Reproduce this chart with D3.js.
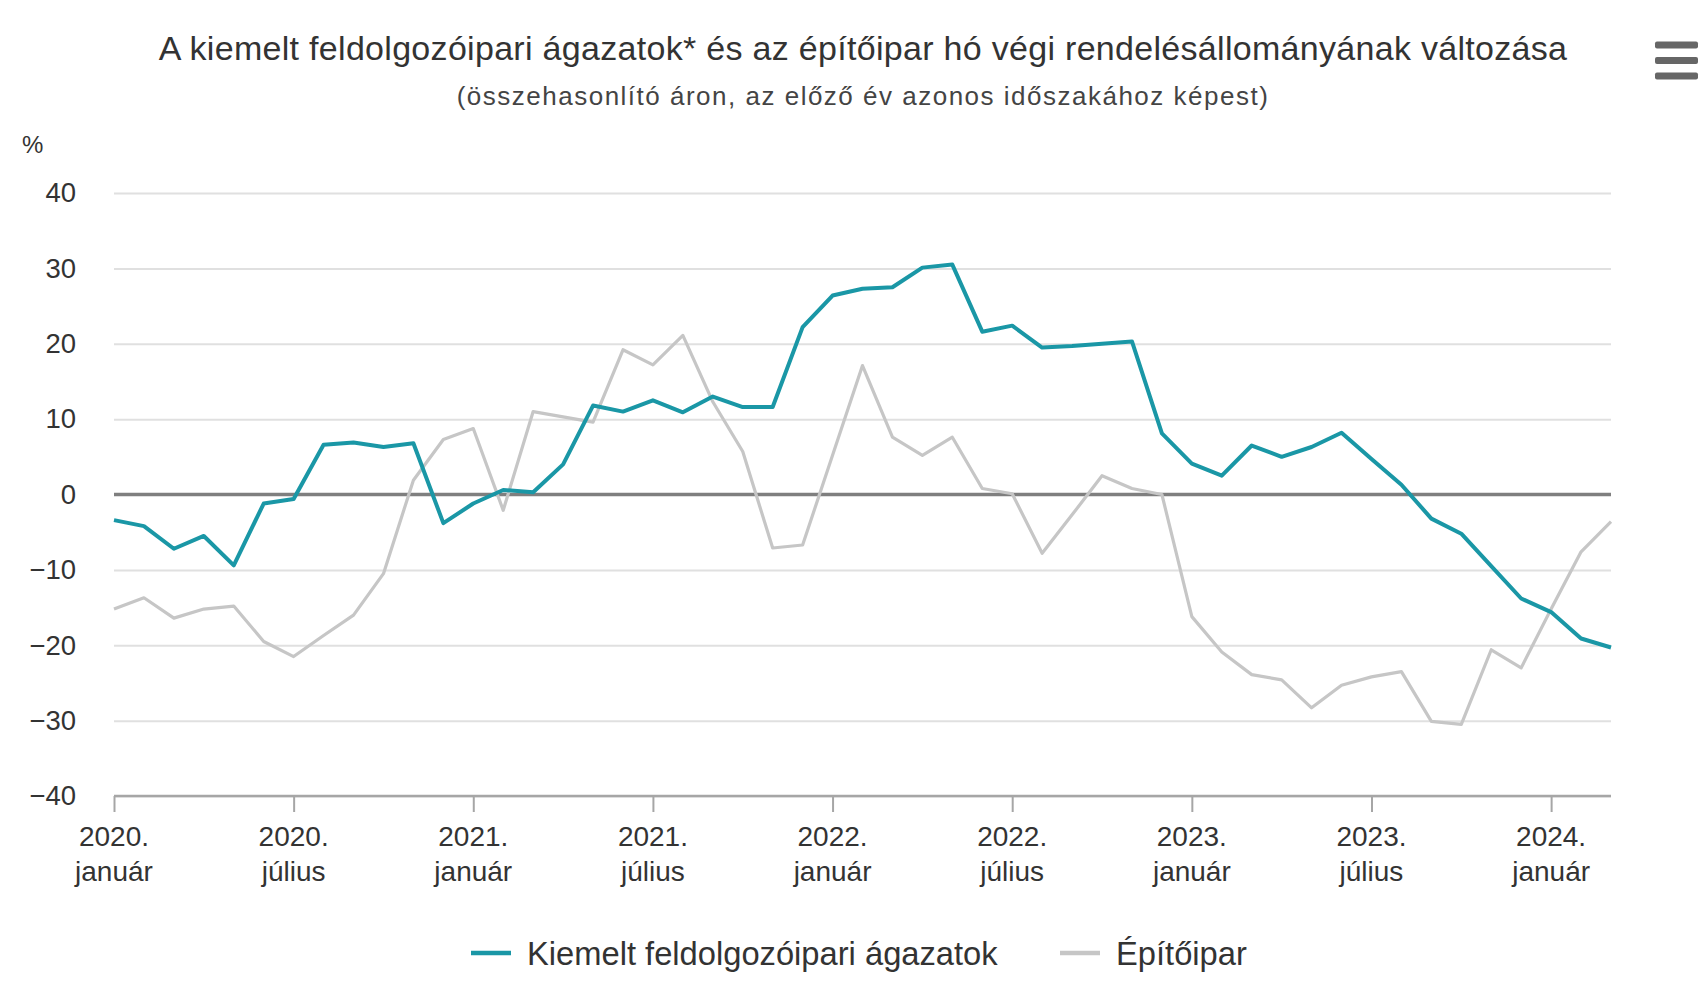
<!DOCTYPE html>
<html><head><meta charset="utf-8">
<script src="https://cdn.jsdelivr.net/npm/d3@7"></script>
<style>
html,body{margin:0;padding:0;background:#fff;}
svg{display:block;font-family:"Liberation Sans",Arial,sans-serif;}
</style></head>
<body>
<svg id="c" width="1699" height="1003"></svg>
<script>
const titleText = "A kiemelt feldolgozóipari ágazatok* és az építőipar hó végi rendelésállományának változása";
const subtitleText = "(összehasonlító áron, az előző év azonos időszakához képest)";
const yUnit = "%";
const seriesNames = ["Kiemelt feldolgozóipari ágazatok", "Építőipar"];
const monthNames = ["január","február","március","április","május","június","július","augusztus","szeptember","október","november","december"];
const startYear = 2020;
const yTicks = [-40,-30,-20,-10,0,10,20,30,40];
// Jan 2020 – Mar 2024, monthly
const manufacturing = [-3.4,-4.2,-7.2,-5.5,-9.4,-1.2,-0.6,6.6,6.9,6.3,6.8,-3.8,
  -1.2,0.6,0.3,4.0,11.8,11.0,12.5,10.9,13.0,11.6,11.6,22.2,
  26.4,27.3,27.5,30.1,30.5,21.6,22.4,19.5,19.7,20.0,20.3,8.1,
  4.1,2.5,6.5,5.0,6.3,8.2,4.7,1.3,-3.2,-5.2,-9.5,-13.8,
  -15.6,-19.1,-20.3];
const construction = [-15.2,-13.7,-16.4,-15.2,-14.8,-19.5,-21.5,-18.7,-16.0,-10.5,1.9,7.3,
  8.75,-2.1,11.0,10.3,9.6,19.2,17.2,21.1,12.3,5.7,-7.1,-6.7,
  5.2,17.1,7.6,5.2,7.6,0.8,0.1,-7.8,-2.7,2.5,0.8,0.0,
  -16.2,-20.9,-23.9,-24.6,-28.3,-25.3,-24.2,-23.5,-30.1,-30.5,-20.6,-23.0,
  -15.2,-7.6,-3.6];
const colors = ["#1a97a6","#c6c6c6"];

const svg = d3.select("#c");
const pL = 114, pR = 1611, pT = 193, pB = 796;
const n = manufacturing.length;
const x = d3.scaleLinear().domain([0, n-1]).range([pL, pR]);
const y = d3.scaleLinear().domain([-40, 40]).range([pB, pT]);

// title
svg.append("text").attr("x", 863).attr("y", 60).attr("text-anchor","middle")
  .attr("font-size", 34).attr("letter-spacing", 0.3).attr("fill","#333").text(titleText);
svg.append("text").attr("x", 863).attr("y", 105).attr("text-anchor","middle")
  .attr("font-size", 26).attr("letter-spacing", 1.5).attr("fill","#444").text(subtitleText);

// menu icon
const menu = svg.append("g").attr("fill","#666");
[45,60.5,76].forEach(cy => menu.append("rect").attr("x",1655).attr("y",cy-3.5).attr("width",43).attr("height",7).attr("rx",2));

// gridlines
const yAxis = d3.axisLeft(y).tickValues(yTicks).tickSize(-(pR-pL)).tickFormat(d => d < 0 ? "−" + Math.abs(d) : d);
const gy = svg.append("g").attr("transform", `translate(${pL},0)`).call(yAxis);
gy.select(".domain").remove();
gy.selectAll(".tick line").attr("stroke","#e0e0e0").attr("stroke-width",2);
gy.selectAll(".tick text").attr("x",-38).attr("font-size",27.5).attr("fill","#333").attr("font-family","Liberation Sans, Arial, sans-serif");

svg.append("text").attr("x",22).attr("y",153).attr("font-size",24).attr("fill","#333").text(yUnit);

// x axis
const tickIdx = d3.range(0, n, 6);
const xAxis = d3.axisBottom(x).tickValues(tickIdx).tickSize(16).tickFormat("");
const gx = svg.append("g").attr("transform", `translate(0,${pB})`).call(xAxis);
gx.select(".domain").attr("stroke","#a6a6a6").attr("stroke-width",2.5).attr("d", `M${pL},0H${pR}`);
gx.selectAll(".tick line").attr("stroke","#a6a6a6").attr("stroke-width",2);
const lbl = svg.append("g").attr("font-size",28).attr("fill","#333").attr("text-anchor","middle");
tickIdx.forEach(i => {
  const yr = startYear + Math.floor(i/12);
  const t = lbl.append("text").attr("x", x(i)).attr("y", 846);
  t.append("tspan").attr("x", x(i)).text(yr + ".");
  t.append("tspan").attr("x", x(i)).attr("dy", 35).text(monthNames[i%12]);
});

// zero line
svg.append("line").attr("x1",pL).attr("x2",pR).attr("y1",y(0)).attr("y2",y(0))
  .attr("stroke","#7f7f7f").attr("stroke-width",3.5);

const line = d3.line().x((d,i)=>x(i)).y(d=>y(d));
svg.append("path").datum(construction).attr("d", line).attr("fill","none")
  .attr("stroke", colors[1]).attr("stroke-width",3.2).attr("stroke-linejoin","round");
svg.append("path").datum(manufacturing).attr("d", line).attr("fill","none")
  .attr("stroke", colors[0]).attr("stroke-width",4).attr("stroke-linejoin","round");

// legend
const leg = svg.append("g").attr("font-size",32.7).attr("fill","#333");
const legItems = [{x:471, tx:527}, {x:1060, tx:1116}];
legItems.forEach((p, k) => {
  leg.append("line").attr("x1",p.x).attr("x2",p.x+40).attr("y1",953).attr("y2",953)
    .attr("stroke",colors[k]).attr("stroke-width",4.5);
  leg.append("text").attr("x",p.tx).attr("y",965).text(seriesNames[k]);
});
</script>
</body></html>
